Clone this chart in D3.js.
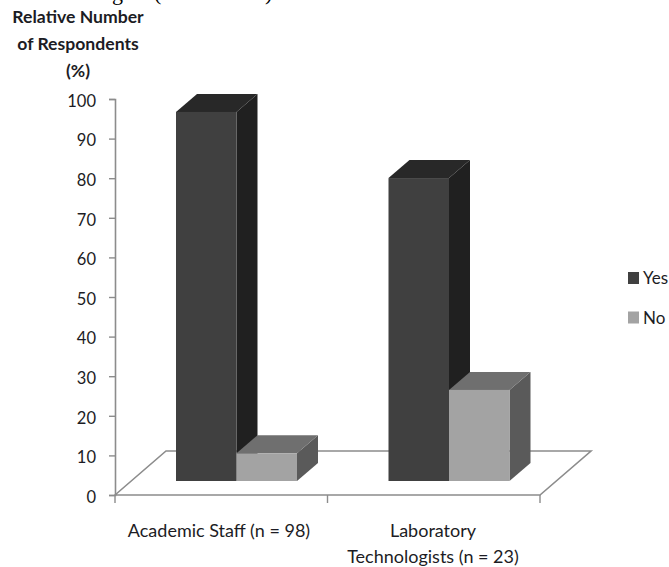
<!DOCTYPE html>
<html>
<head>
<meta charset="utf-8">
<script src="https://cdn.jsdelivr.net/npm/d3@7/dist/d3.min.js"></script>
<style>
  html, body { margin: 0; padding: 0; background: #fff; overflow: hidden; }
  svg { display: block; }
  text { font-family: Lato, "Open Sans", sans-serif; fill: #1c1c24; }
</style>
</head>
<body>
<svg id="chart" width="669" height="567"></svg>
<script>
// Survey results: share of respondents answering yes / no, per staff group
const categories = ["Academic Staff (n = 98)", "Laboratory|Technologists (n = 23)"];
const seriesNames = ["Yes", "No"];
const yesValues = [93.2, 76.5];
const noValues = [7, 23];
const yTicks = [0, 10, 20, 30, 40, 50, 60, 70, 80, 90, 100];
const titleLines = ["Relative Number", "of Respondents", "(%)"];
const headingTail = [["g", 112], ["(", 154], [")", 265]];

const svg = d3.select("#chart");

// Shaded faces of each 3-D column: front, top, side
const shades = {
  Yes: { front: "#404040", top: "#282828", side: "#202020" },
  No:  { front: "#a3a3a3", top: "#6f6f6f", side: "#5a5a5a" }
};

const y = d3.scaleLinear().domain([0, 100]).range([495, 99]);
const x0 = d3.scaleBand().domain(categories).range([115, 540]);
const x1 = d3.scaleBand().domain(seriesNames).range([0, 121]);

// Oblique projection offsets
const floorDx = 51, floorDy = 44;   // full depth of the floor
const barInsetDy = 14;              // gap between front edge of floor and column
const barDx = 21, barDy = 18;       // depth of a column
const barStartOffset = 61;          // left edge of a group inside its band

const axisColor = "#8c8c8c";

// Remaining descenders of the page heading running off the top edge
svg.append("g").selectAll("text").data(headingTail).join("text")
  .attr("x", d => d[1]).attr("y", 0)
  .style("font-family", "'Liberation Serif', serif")
  .style("font-size", "22px")
  .style("fill", "#000")
  .text(d => d[0]);

// Floor outline
const xL = x0.range()[0], xR = x0.range()[1], yF = y(0);
svg.append("path")
  .attr("d", `M${xL},${yF}L${xL + floorDx},${yF - floorDy}L${xR + floorDx},${yF - floorDy}L${xR},${yF}Z`)
  .attr("fill", "#fff")
  .attr("stroke", axisColor)
  .attr("stroke-width", 1.6);

// Value axis
const yAxis = d3.axisLeft(y).tickValues(yTicks).tickSize(6).tickPadding(13);
const yG = svg.append("g").attr("transform", `translate(${xL},0)`).call(yAxis);
yG.select(".domain").attr("stroke", axisColor).attr("stroke-width", 1.6);
yG.selectAll(".tick line").attr("stroke", axisColor).attr("stroke-width", 1.4);
yG.selectAll(".tick text")
  .attr("y", 2)
  .style("font-size", "16.5px")
  .style("font-family", "Lato, sans-serif");

// Category tick marks along the front of the floor
const catEdges = [xL, xL + x0.bandwidth(), xR];
svg.append("g").selectAll("line").data(catEdges).join("line")
  .attr("x1", d => d).attr("x2", d => d)
  .attr("y1", yF).attr("y2", yF + 8)
  .attr("stroke", axisColor).attr("stroke-width", 1.4);

// Draws one column as three polygons
function column(parent, xFront, width, value, shade) {
  const base = y(0) - barInsetDy;
  const top = base - (y(0) - y(value));
  const g = parent.append("g");
  g.append("path").attr("fill", shade.side)
    .attr("d", `M${xFront + width},${top}L${xFront + width + barDx},${top - barDy}L${xFront + width + barDx},${base - barDy}L${xFront + width},${base}Z`);
  g.append("path").attr("fill", shade.top)
    .attr("d", `M${xFront},${top}L${xFront + barDx},${top - barDy}L${xFront + width + barDx},${top - barDy}L${xFront + width},${top}Z`);
  g.append("rect").attr("fill", shade.front)
    .attr("x", xFront).attr("y", top).attr("width", width).attr("height", base - top);
}

const barsLayer = svg.append("g");
categories.forEach((cat, i) => {
  const start = x0(cat) + barStartOffset;
  column(barsLayer, start + x1("Yes"), x1.bandwidth(), yesValues[i], shades.Yes);
  column(barsLayer, start + x1("No"), x1.bandwidth(), noValues[i], shades.No);
});

// Category labels, centred under each group
categories.forEach((cat, i) => {
  const cx = [219, 433][i];
  cat.split("|").forEach((line, j) => {
    svg.append("text").attr("x", cx).attr("y", 537 + j * 26)
      .attr("text-anchor", "middle").style("font-size", "18px").text(line);
  });
});

// Axis title, bold, stacked above the value axis
svg.append("g").selectAll("text").data(titleLines).join("text")
  .attr("x", 78).attr("y", (d, i) => 23 + i * 27)
  .attr("text-anchor", "middle")
  .style("font-size", "17.6px").style("font-weight", "700")
  .text(d => d);

// Legend
const legend = svg.append("g").selectAll("g").data(seriesNames).join("g")
  .attr("transform", (d, i) => `translate(628,${272 + i * 39.5})`);
legend.append("rect").attr("width", 11).attr("height", 12)
  .attr("fill", d => shades[d].front);
legend.append("text").attr("x", 15).attr("y", 12)
  .style("font-size", "17px").text(d => d);
</script>
</body>
</html>
